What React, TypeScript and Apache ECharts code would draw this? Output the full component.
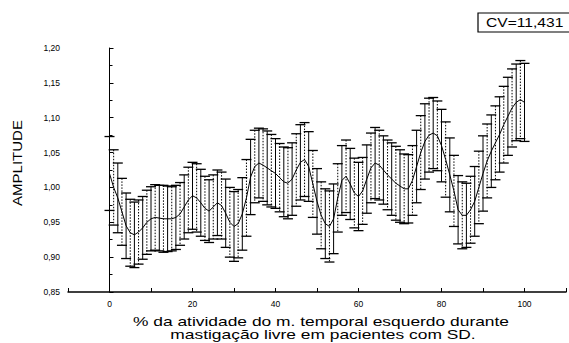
import React, { useEffect, useRef } from "react";
import * as echarts from "echarts";

// Mean amplitude at each 1 % step of the chewing cycle (0 … 100 %)
const meanAmplitude: number[] = [
  1.02, 1.0, 0.985, 0.965, 0.945, 0.935, 0.932, 0.936, 0.942, 0.95,
  0.955, 0.957, 0.956, 0.955, 0.955, 0.955, 0.957, 0.962, 0.972, 0.982,
  0.988, 0.985, 0.978, 0.97, 0.966, 0.972, 0.978, 0.974, 0.963, 0.95,
  0.944, 0.948, 0.962, 0.985, 1.015, 1.03, 1.035, 1.032, 1.028, 1.024,
  1.02, 1.014, 1.008, 1.006, 1.012, 1.025, 1.036, 1.04, 1.03, 1.005,
  0.98, 0.96, 0.948, 0.944, 0.955, 0.985, 1.01, 1.016, 1.005, 0.992,
  0.987, 0.995, 1.012, 1.028, 1.035, 1.032, 1.025, 1.018, 1.012, 1.006,
  1.002, 0.998, 0.998, 1.01, 1.03, 1.05, 1.066, 1.075, 1.078, 1.074,
  1.06, 1.04, 1.018, 0.995, 0.968, 0.96, 0.96, 0.968, 0.98, 1.0,
  1.02, 1.038, 1.052, 1.064, 1.076, 1.09, 1.102, 1.114, 1.122, 1.126,
  1.122,
];

// Standard deviation at each step
const sdAmplitude: number[] = [
  0.053, 0.054, 0.05, 0.048, 0.047, 0.048, 0.047, 0.046, 0.045, 0.046,
  0.046, 0.047, 0.047, 0.048, 0.047, 0.046, 0.046, 0.045, 0.046, 0.047,
  0.048, 0.049, 0.048, 0.046, 0.045, 0.046, 0.047, 0.048, 0.049, 0.05,
  0.05, 0.049, 0.052, 0.055, 0.054, 0.052, 0.05, 0.052, 0.053, 0.052,
  0.05, 0.049, 0.05, 0.051, 0.052, 0.052, 0.054, 0.053, 0.05, 0.048,
  0.047, 0.048, 0.05, 0.051, 0.05, 0.049, 0.05, 0.052, 0.051, 0.05,
  0.049, 0.048, 0.049, 0.05, 0.051, 0.05, 0.049, 0.05, 0.052, 0.053,
  0.052, 0.05, 0.049, 0.05, 0.052, 0.053, 0.054, 0.053, 0.051, 0.05,
  0.052, 0.054, 0.053, 0.051, 0.049, 0.048, 0.046, 0.048, 0.05, 0.052,
  0.054, 0.053, 0.052, 0.053, 0.054, 0.055, 0.056, 0.056, 0.055, 0.056,
  0.056,
];

const yTicks: number[] = [0.85, 0.9, 0.95, 1.0, 1.05, 1.1, 1.15, 1.2];
const xTickLabels: number[] = [0, 20, 40, 60, 80, 100];

const xTitle = [
  "% da atividade do m. temporal esquerdo durante",
  "mastigação livre em pacientes com SD.",
];
const yTitle = "AMPLITUDE";
const cvLabel = "CV=11,431";

const FONT = "'Liberation Sans', Arial, sans-serif";

export default function App() {
  const ref = useRef<HTMLDivElement>(null);

  useEffect(() => {
    if (!ref.current) return;
    const chart = echarts.init(ref.current, undefined, { renderer: "svg" });

    const meanData = meanAmplitude.map((m, i) => [i, m]);
    const barData = meanAmplitude.map((m, i) => [i, m - sdAmplitude[i], m + sdAmplitude[i]]);

    const titleStyle = {
      fontFamily: FONT,
      fontSize: 12,
      fill: "#000",
      align: "center",
      verticalAlign: "middle",
    };

    chart.setOption({
      animation: false,
      backgroundColor: "#ffffff",
      grid: { left: 68, right: 1, top: 48, bottom: 51, containLabel: false },
      xAxis: {
        type: "value",
        min: -10,
        max: 110,
        interval: 10,
        axisLine: { onZero: false, lineStyle: { color: "#000", width: 1.5 } },
        axisTick: { inside: true, length: 4, lineStyle: { color: "#000" } },
        splitLine: { show: false },
        axisLabel: {
          color: "#000",
          fontFamily: FONT,
          fontSize: 8.5,
          margin: 7,
          formatter: (v: number) => (xTickLabels.includes(v) ? String(v) : ""),
        },
      },
      yAxis: {
        type: "value",
        min: yTicks[0],
        max: yTicks[yTicks.length - 1],
        interval: 0.05,
        axisLine: { show: true, lineStyle: { color: "#000", width: 1 } },
        axisTick: { show: true, inside: true, length: 4, lineStyle: { color: "#000" } },
        minorTick: { show: true, splitNumber: 2, length: 3, lineStyle: { color: "#000" } },
        splitLine: { show: false },
        axisLabel: {
          color: "#000",
          fontFamily: FONT,
          fontSize: 8.5,
          margin: 8,
          formatter: (v: number) => v.toFixed(2).replace(".", ","),
        },
      },
      graphic: [
        {
          type: "text",
          x: 18,
          y: 163,
          rotation: Math.PI / 2,
          scaleX: 1.2,
          style: { ...titleStyle, text: yTitle, fontSize: 12.5 },
        },
        {
          type: "text",
          x: 321,
          y: 322,
          scaleX: 1.45,
          style: { ...titleStyle, text: xTitle[0] },
        },
        {
          type: "text",
          x: 323,
          y: 335,
          scaleX: 1.45,
          style: { ...titleStyle, text: xTitle[1] },
        },
        {
          type: "rect",
          shape: { x: 478, y: 13, width: 100, height: 19 },
          style: { fill: "#fff", stroke: "#000", lineWidth: 1.2 },
        },
        {
          type: "text",
          x: 486,
          y: 23,
          scaleX: 1.25,
          style: {
            text: cvLabel,
            fontFamily: FONT,
            fontSize: 12.5,
            fill: "#000",
            verticalAlign: "middle",
          },
        },
      ],
      series: [
        {
          // SD error bars: vertical whisker with a cap at each end
          type: "custom",
          data: barData,
          encode: { x: 0, y: [1, 2] },
          renderItem: (params: any, api: any) => {
            const x = api.value(0);
            const lo = api.coord([x, api.value(1)]);
            const hi = api.coord([x, api.value(2)]);
            const half = 5;
            const dashed = params.dataIndex % 2 === 1;
            const stroke = { stroke: "#000", lineWidth: 1 };
            return {
              type: "group",
              children: [
                {
                  type: "line",
                  shape: { x1: hi[0], y1: hi[1], x2: lo[0], y2: lo[1] },
                  style: dashed ? { ...stroke, lineDash: [1.5, 1.5] } : stroke,
                },
                {
                  type: "line",
                  shape: { x1: hi[0] - half, y1: hi[1], x2: hi[0] + half, y2: hi[1] },
                  style: { stroke: "#000", lineWidth: 1.3 },
                },
                {
                  type: "line",
                  shape: { x1: lo[0] - half, y1: lo[1], x2: lo[0] + half, y2: lo[1] },
                  style: { stroke: "#000", lineWidth: 1.3 },
                },
              ],
            };
          },
          z: 2,
        },
        {
          type: "line",
          data: meanData,
          showSymbol: false,
          lineStyle: { color: "#000", width: 1 },
          z: 3,
        },
      ],
    });

    return () => chart.dispose();
  }, []);

  return (
    <div
      ref={ref}
      style={{ position: "fixed", left: 0, top: 0, width: 569, height: 343 }}
    />
  );
}
